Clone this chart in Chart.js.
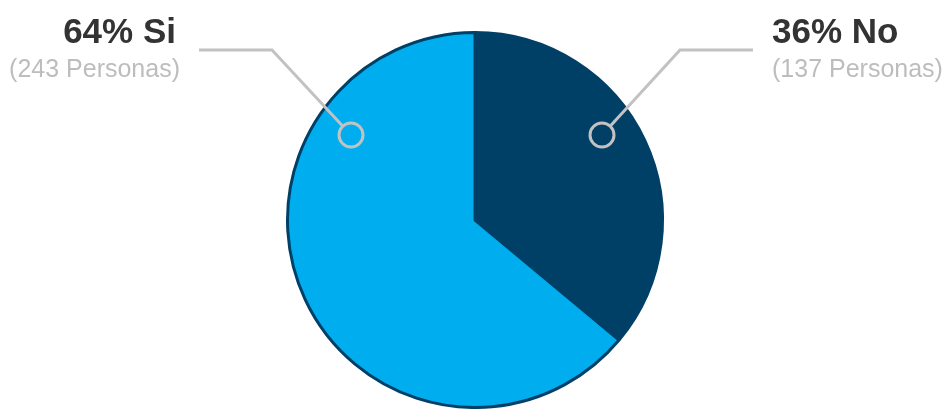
<!DOCTYPE html>
<html>
<head>
<meta charset="utf-8">
<script src="https://cdn.jsdelivr.net/npm/chart.js@4"></script>
<style>
  html, body { margin: 0; padding: 0; background: #fff; }
  #wrap { width: 944px; height: 409px; position: relative; }
</style>
</head>
<body>
<div id="wrap"><canvas id="pie"></canvas></div>
<script>
// data (order = drawing order, clockwise from top)
const categories = ['No', 'Si'];
const personas = [137, 243];
const percentLabels = ['36%', '64%'];
const sliceColors = ['#003f66', '#00aeef'];

const lineGray = '#c2c2c2';

// callout labels + leader lines
const calloutPlugin = {
  id: 'callouts',
  afterDatasetsDraw(chart) {
    const arc = chart.getDatasetMeta(0).data[0];
    const cx = arc.x, cy = arc.y;
    const ctx = chart.ctx;
    ctx.save();

    // left side -> Si, right side -> No
    const callouts = [
      { i: 1, dot: [cx - 124, cy - 85], elbow: [cx - 203, cy - 170], end: [cx - 276, cy - 170], textX: 176, align: 'right' },
      { i: 0, dot: [cx + 127, cy - 85], elbow: [cx + 205, cy - 170], end: [cx + 278, cy - 170], textX: 772, align: 'left' }
    ];

    callouts.forEach(c => {
      ctx.strokeStyle = lineGray;
      ctx.lineWidth = 3;
      ctx.lineJoin = 'miter';
      // leader line stops at the ring
      const dx = c.elbow[0] - c.dot[0], dy = c.elbow[1] - c.dot[1];
      const len = Math.hypot(dx, dy);
      ctx.beginPath();
      ctx.moveTo(c.dot[0] + dx / len * 12, c.dot[1] + dy / len * 12);
      ctx.lineTo(c.elbow[0], c.elbow[1]);
      ctx.lineTo(c.end[0], c.end[1]);
      ctx.stroke();

      ctx.beginPath();
      ctx.arc(c.dot[0], c.dot[1], 12, 0, Math.PI * 2);
      ctx.stroke();

      ctx.textAlign = c.align;
      ctx.textBaseline = 'alphabetic';
      ctx.fillStyle = '#333333';
      ctx.font = 'bold 35px "Liberation Sans", Arial, sans-serif';
      ctx.fillText(percentLabels[c.i] + ' ' + categories[c.i], c.textX, 43);
      ctx.fillStyle = '#bdbdbd';
      ctx.font = '25px "Liberation Sans", Arial, sans-serif';
      ctx.fillText('(' + personas[c.i] + ' Personas)', c.textX + (c.align === 'right' ? 4 : 0), 77);
    });

    ctx.restore();
  }
};

new Chart(document.getElementById('pie').getContext('2d'), {
  type: 'pie',
  data: {
    labels: categories,
    datasets: [{
      data: personas,
      backgroundColor: sliceColors,
      hoverBackgroundColor: sliceColors,
      borderColor: '#003f66',
      hoverBorderColor: '#003f66',
      borderWidth: 3,
      hoverBorderWidth: 3
    }]
  },
  options: {
    responsive: true,
    maintainAspectRatio: false,
    animation: false,
    events: [],
    layout: { padding: { top: 31, bottom: 0, left: 6, right: 0 } },
    plugins: {
      legend: { display: false },
      tooltip: { enabled: false }
    }
  },
  plugins: [calloutPlugin]
});
</script>
</body>
</html>
